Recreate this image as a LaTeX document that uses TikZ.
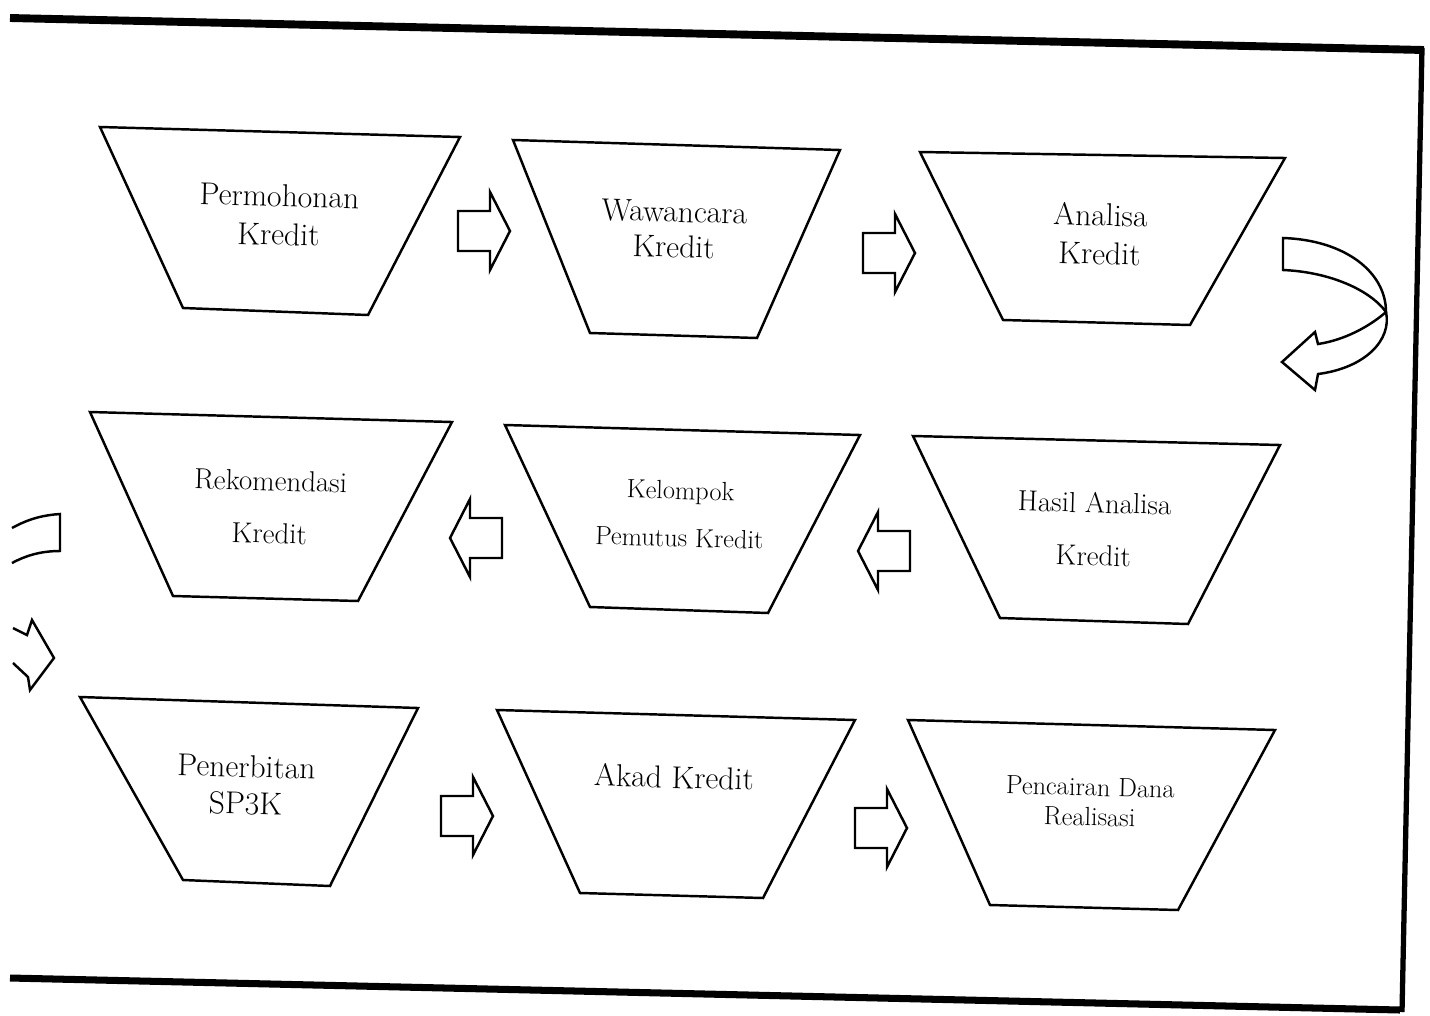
\documentclass[tikz,border=0pt]{standalone}
\usetikzlibrary{arrows.meta,positioning,calc}

\begin{document}
\begin{tikzpicture}[x=0.02cm, y=-0.02cm,
  box/.style={draw, line width=1.4pt, line join=miter},
  lbl/.style={align=center, rotate=-1.5, inner sep=0pt},
  big/.style={font=\fontsize{18}{22}\selectfont},
  mid/.style={font=\fontsize{16.5}{30}\selectfont},
  small/.style={font=\fontsize{15}{27}\selectfont},
  frame/.style={line width=4.5pt},
  blockarrow/.pic={\draw[line width=1.4pt, fill=white, line join=miter]
    (-32,-20) -- (0,-20) -- (0,-39) -- (20,0) -- (0,39) -- (0,20) -- (-32,20) -- cycle;}]
\useasboundingbox (0,0) rectangle (1430,1015);

% Frame
\draw[frame] (10,18) -- (1424,50);
\draw[line width=3pt] (1422,48) -- (1402,1012);
\draw[line width=4pt] (10,978) -- (1400,1010);

% Row 1
\draw[box] (100,127) -- (460,137) -- (368,315) -- (183,308) -- cycle;
\node[lbl, big] (perm) at (279,215) {Permohonan\\Kredit};
\draw[box] (513,140) -- (840,150) -- (757,338) -- (590,333) -- cycle;
\node[lbl, big, font=\fontsize{18}{20}\selectfont] (wawan) at (674,229) {Wawancara\\Kredit};
\draw[box] (920,152) -- (1285,158) -- (1190,325) -- (1003,320) -- cycle;
\node[lbl, big] (analisa) at (1100,234) {Analisa\\Kredit};

% Row 2
\draw[box] (90,412) -- (452,422) -- (358,601) -- (173,596) -- cycle;
\node[lbl, mid] (rekom) at (270,507) {Rekomendasi\\Kredit};
\draw[box] (505,425) -- (860,435) -- (768,613) -- (590,607) -- cycle;
\node[lbl, small] (kelompok) at (680,514) {Kelompok\\Pemutus Kredit};
\draw[box] (913,436) -- (1280,445) -- (1188,624) -- (1000,618) -- cycle;
\node[lbl, mid] (hasil) at (1094,529) {Hasil Analisa\\Kredit};

% Row 3
\draw[box] (80,697) -- (418,708) -- (330,886) -- (183,880) -- cycle;
\node[lbl, big, font=\fontsize{18}{21}\selectfont] (sp3k) at (246,785) {Penerbitan\\SP3K};
\draw[box] (497,710) -- (855,720) -- (763,898) -- (580,893) -- cycle;
\node[lbl, big] (akad) at (674,777) {Akad Kredit};
\draw[box] (908,720) -- (1275,730) -- (1178,910) -- (990,905) -- cycle;
\node[lbl, small, font=\fontsize{15}{17}\selectfont] (cair) at (1090,802) {Pencairan Dana\\Realisasi};

% Block arrows
\pic at (490,231) {blockarrow};
\pic at (895,253) {blockarrow};
\pic[rotate=180] at (470,538) {blockarrow};
\pic[rotate=180] at (878,551) {blockarrow};
\pic at (473,816) {blockarrow};
\pic at (887,828) {blockarrow};

% Turn arrows
\draw[box, fill=white] (1283,238) .. controls (1345,240) and (1386,272) .. (1386,312)
  .. controls (1392,340) and (1365,368) .. (1318,374) -- (1315,390) -- (1282,362)
  -- (1315,332) -- (1318,344) .. controls (1345,340) and (1370,326) .. (1386,312)
  .. controls (1370,290) and (1330,272) .. (1283,270) -- cycle;
\draw[box] (12,528) .. controls (30,518) and (45,515) .. (60,514) -- (60,551)
  .. controls (40,551) and (25,556) .. (12,563);
\draw[box] (13,628) -- (27,635) -- (32,620) -- (54,658) -- (30,690) -- (28,677) -- (13,663);
\end{tikzpicture}
\end{document}
